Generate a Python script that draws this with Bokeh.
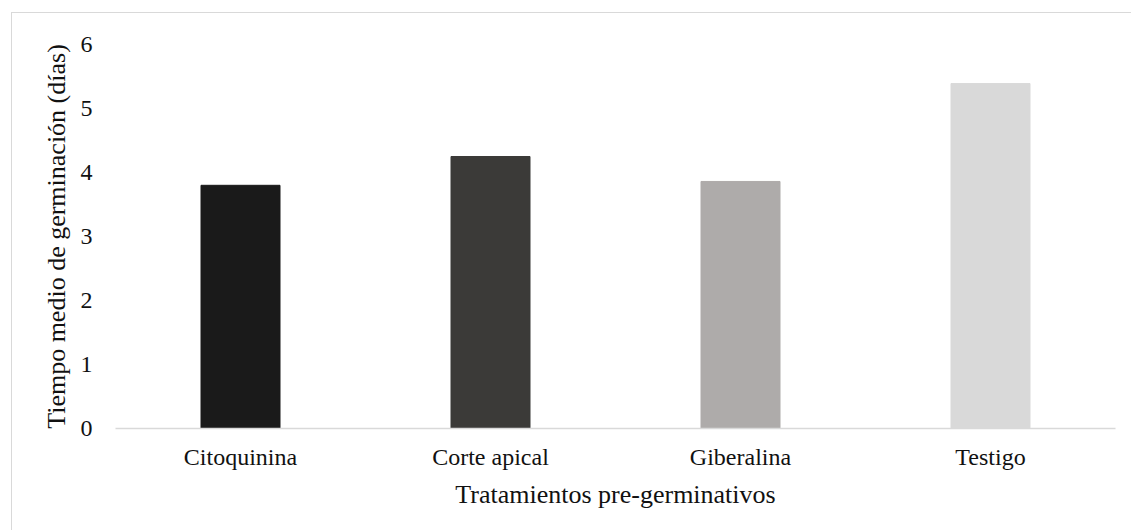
from bokeh.plotting import figure
from bokeh.models import ColumnDataSource, FixedTicker, Range1d
from bokeh.embed import file_html
from bokeh.resources import INLINE

categories = ["Citoquinina", "Corte apical", "Giberalina", "Testigo"]
values = [3.80, 4.25, 3.86, 5.39]
colors = ["#1a1a1a", "#3b3a38", "#aeabaa", "#d9d9d9"]
y_ticks = [0, 1, 2, 3, 4, 5, 6]

src = ColumnDataSource(dict(cat=categories, val=values, color=colors))

p = figure(x_range=categories, y_range=Range1d(0, 6), width=1120, height=518,
           output_backend="svg", toolbar_location=None,
           min_border_left=103, min_border_right=17, min_border_top=31, min_border_bottom=103)
p.margin = (12, 0, 0, 11)
p.styles = {"border-left": "1px solid #d9d9d9", "border-top": "1px solid #d9d9d9"}

p.vbar(x="cat", top="val", width=0.316, color="color", source=src)

font = "Liberation Serif"
p.xgrid.visible = False
p.ygrid.visible = False
p.outline_line_color = None

p.yaxis.ticker = FixedTicker(ticks=y_ticks)
p.yaxis.axis_line_color = None
p.yaxis.major_tick_line_color = None
p.yaxis.minor_tick_line_color = None
p.yaxis.major_label_standoff = 17
p.yaxis.axis_label = "Tiempo medio de germinación (días)"

p.xaxis.axis_line_color = "#d9d9d9"
p.xaxis.axis_line_width = 1.5
p.xaxis.major_tick_line_color = None
p.xaxis.minor_tick_line_color = None
p.xaxis.major_label_standoff = 9
p.xaxis.axis_label = "Tratamientos pre-germinativos"

for ax in (p.xaxis, p.yaxis):
    ax.major_label_text_font = font
    ax.major_label_text_font_size = "24px"
    ax.major_label_text_color = "#111111"
    ax.axis_label_text_font = font
    ax.axis_label_text_font_size = "26px"
    ax.axis_label_text_font_style = "normal"
    ax.axis_label_text_color = "#111111"

p.xaxis.axis_label_standoff = 7
p.yaxis.axis_label_standoff = 7

open("out.html", "w").write(file_html(p, INLINE))
